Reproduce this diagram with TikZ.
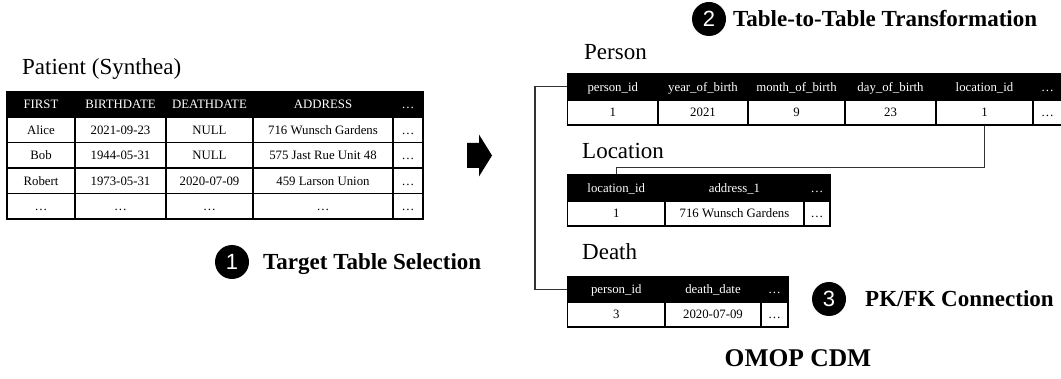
\documentclass[tikz,border=0pt]{standalone}
\usepackage{fontspec}
\setmainfont{Liberation Serif}
\newfontfamily\digitfont{Liberation Sans}
\newcommand\celltextfont{\fontsize{12.8}{15}\selectfont}
\newcommand\mytabrow[5]{%
  \foreach \xa/\xb/\txt [count=\ci] in {#5} {%
    \pgfmathsetmacro\mycw{\xb-\xa}%
    \pgfmathsetmacro\mych{#4-#3}%
    \pgfmathsetmacro\mycx{(\xa+\xb)/2}%
    \pgfmathsetmacro\mycy{(#3+#4)/2}%
    \node[#1,minimum width=\mycw pt,minimum height=\mych pt] (#2\ci) at (\mycx,\mycy) {\txt};
  }%
}
\begin{document}
\begin{tikzpicture}[x=1pt,y=-1pt,
  cellbase/.style={inner sep=0pt,font=\celltextfont,text height=11.5pt,text depth=2.5pt},
  hcell/.style={cellbase,draw=black,fill=black,text=white,line width=1.1pt},
  rcell/.style={cellbase,draw=black,fill=white,text=black,line width=1.1pt},
  phcell/.style={hcell,line width=1.6pt},
  pcell/.style={rcell,line width=1.6pt},
  ttl/.style={anchor=base west,inner sep=0pt,font=\fontsize{23}{27}\selectfont},
  lbl/.style={anchor=base west,inner sep=0pt,font=\fontsize{23}{27}\selectfont\bfseries},
  numc/.style={circle,fill=black,text=white,inner sep=0pt,minimum size=34pt,font=\digitfont\fontsize{22}{24}\selectfont},
  conn/.style={draw=black!80,line width=1.4pt}]
\useasboundingbox (0,0) rectangle (1061,379);

% ---- Patient (Synthea)
\node[ttl] (tpat) at (22,75) {Patient (Synthea)};
\mytabrow{phcell}{pah}{92}{117}{7/75/FIRST,75/166/BIRTHDATE,166/253/DEATHDATE,253/393/ADDRESS,393/423/\dots}
\mytabrow{pcell}{paa}{117}{142.5}{7/75/Alice,75/166/2021-09-23,166/253/NULL,253/393/716 Wunsch Gardens,393/423/\dots}
\mytabrow{pcell}{pab}{142.5}{168}{7/75/Bob,75/166/1944-05-31,166/253/NULL,253/393/575 Jast Rue Unit 48,393/423/\dots}
\mytabrow{pcell}{pac}{168}{193.5}{7/75/Robert,75/166/1973-05-31,166/253/2020-07-09,253/393/459 Larson Union,393/423/\dots}
\mytabrow{pcell}{pad}{193.5}{219}{7/75/\dots,75/166/\dots,166/253/\dots,253/393/\dots,393/423/\dots}

\node[numc] (n1) at (232,262) {1};
\node[lbl] (l1) at (263,270) {Target Table Selection};

% ---- block arrow
\fill[black] (467,143) -- (479,143) -- (479,134.5) -- (492,155.5) -- (479,176.5) -- (479,168) -- (467,168) -- cycle;

% ---- OMOP side
\node[numc] (n2) at (709,19) {2};
\node[lbl] (l2) at (733,27) {Table-to-Table Transformation};

\node[ttl] (tper) at (584,60) {Person};
\mytabrow{hcell}{peh}{73.5}{100}{567.5/658/person\_id,658/748/year\_of\_birth,748/845/month\_of\_birth,845/936/day\_of\_birth,936/1033/location\_id,1033/1062/\dots}
\mytabrow{rcell}{per}{100}{125}{567.5/658/1,658/748/2021,748/845/9,845/936/23,936/1033/1,1033/1062/\dots}

\node[ttl] (tloc) at (582,159) {Location};
\mytabrow{hcell}{loh}{175}{201}{567.5/665/location\_id,665/804/address\_1,804/830/\dots}
\mytabrow{rcell}{lor}{201}{226}{567.5/665/1,665/804/716 Wunsch Gardens,804/830/\dots}

\node[ttl] (tdea) at (582,259.5) {Death};
\mytabrow{hcell}{deh}{277}{302}{567.5/665/person\_id,665/761/death\_date,761/788/\dots}
\mytabrow{rcell}{der}{302}{327}{567.5/665/3,665/761/2020-07-09,761/788/\dots}

\node[numc] (n3) at (829,299) {3};
\node[lbl] (l3) at (865,306.5) {PK/FK Connection};

\node[anchor=base,inner sep=0pt,font=\fontsize{25.5}{30}\selectfont\bfseries] (omop) at (798,366.5) {OMOP CDM};

% ---- connectors
\draw[conn] (peh1.west) -- ++(-32,0) |- (deh1.west);
\draw[conn] (per5.south) -- ++(0,42) -| (loh1.north);
\end{tikzpicture}
\end{document}
